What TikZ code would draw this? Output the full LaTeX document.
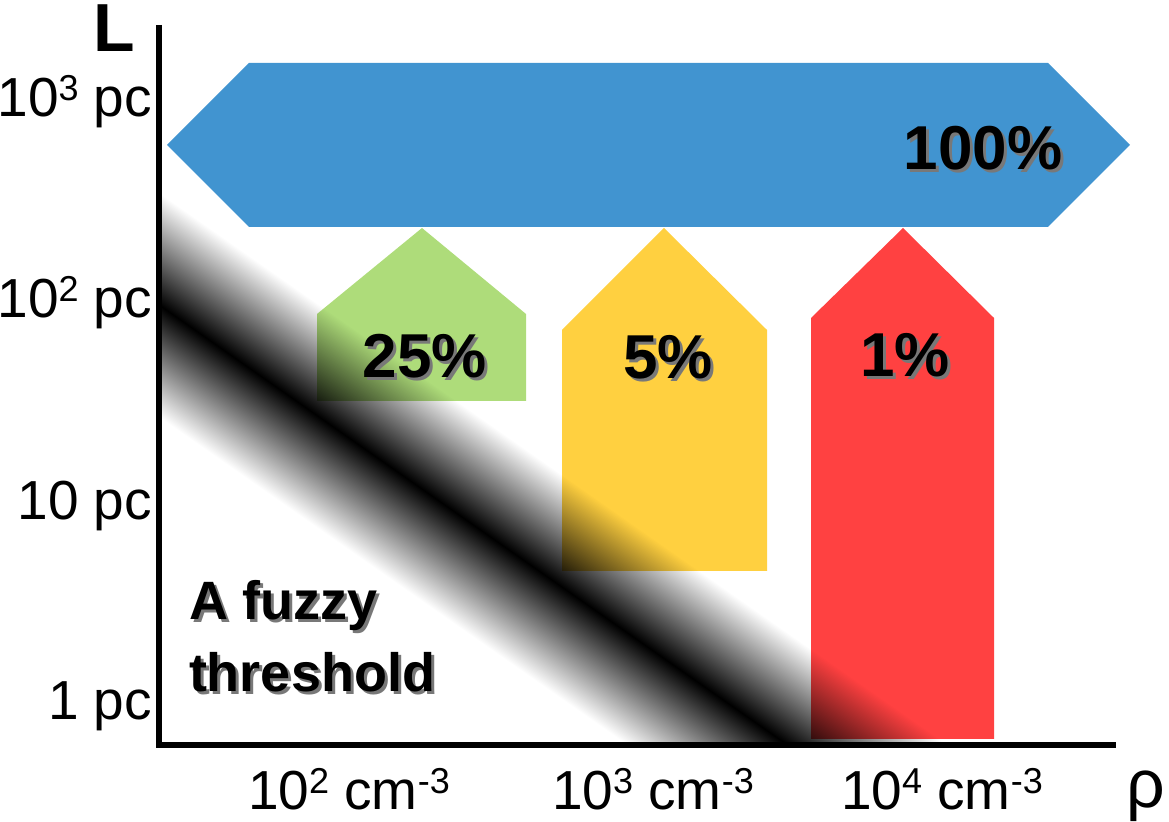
\documentclass[tikz,border=0pt]{standalone}
\usepackage{fontspec}
\setmainfont{Liberation Sans}
\definecolor{blueA}{RGB}{65,148,208}
\definecolor{greenA}{RGB}{174,220,122}
\definecolor{yellowA}{RGB}{255,208,64}
\definecolor{redA}{RGB}{255,65,65}
\definecolor{shadowA}{RGB}{120,120,120}
\pgfdeclareverticalshading{fuzzband}{600pt}{color(0pt)=(white); color(46pt)=(black); color(92pt)=(white)}
\newcommand\sps[1]{\raisebox{0.3em}{\fontsize{18}{18}\selectfont #1}}
\newcommand\shd[1]{\leavevmode\rlap{\kern1.5pt\raisebox{-1.5pt}{\textcolor{shadowA}{#1}}}#1}
\begin{document}
\begin{tikzpicture}[x=0.5pt,y=-0.5pt,
  every node/.style={inner sep=0pt, outer sep=0pt},
  axlab/.style={font=\fontsize{27.5}{27.5}\selectfont},
  pct/.style={font=\fontsize{31}{31}\selectfont\bfseries, anchor=base},
  fuzzy/.style={font=\fontsize{27}{27}\selectfont\bfseries, anchor=base west},
  axis/.style={line width=3pt, line join=miter}]
\useasboundingbox (0,0) rectangle (1169,822);
% arrows
\fill[blueA] (167,145) -- (249,63) -- (1048,63) -- (1130,145) -- (1048,227) -- (249,227) -- cycle;
\fill[greenA] (317,401) -- (317,314) -- (422,228) -- (526,314) -- (526,401) -- cycle;
\fill[yellowA] (562,571) -- (562,330) -- (664,228) -- (767,330) -- (767,571) -- cycle;
\fill[redA] (811,739) -- (811,318) -- (903,228) -- (994,318) -- (994,739) -- cycle;
% fuzzy band
\begin{scope}
  \clip (161,0) rectangle (1169,742);
  \begin{scope}[blend mode=multiply]
    \node[rotate=-35] (band) at (475,526) {\pgfuseshading{fuzzband}};
  \end{scope}
\end{scope}
% axes
\coordinate (ytop) at (158.5,25);
\coordinate (origin) at (158.5,745);
\coordinate (xend) at (1116,745);
\draw[axis] (ytop) -- (origin) -- (xend);
% axis titles
\node[font=\fontsize{34}{34}\selectfont\bfseries, anchor=base west] (L) at (93,52) {L};
\node[font=\fontsize{34}{34}\selectfont, anchor=base] (rho) at (1146,808) {ρ};
% y labels
\node[axlab, anchor=base east] (y3) at (152,117) {10\sps{3} pc};
\node[axlab, anchor=base east] (y2) at (152,318) {10\sps{2} pc};
\node[axlab, anchor=base east] (y1) at (152,520) {10 pc};
\node[axlab, anchor=base east] (y0) at (152,720) {1 pc};
% x labels
\node[axlab, anchor=base west] (x2) at (248,810) {10\sps{2} cm\sps{-3}};
\node[axlab, anchor=base west] (x3) at (552,810) {10\sps{3} cm\sps{-3}};
\node[axlab, anchor=base west] (x4) at (841,810) {10\sps{4} cm\sps{-3}};
% percentages
\node[pct] (p100) at (983,170) {\shd{100\%}};
\node[pct] (p25) at (425,378) {\shd{25\%}};
\node[pct] (p5) at (668,379) {\shd{5\%}};
\node[pct] (p1) at (905,377) {\shd{1\%}};
% fuzzy threshold
\node[fuzzy] (fa) at (189,620) {\shd{A fuzzy}};
\node[fuzzy] (fb) at (189,692) {\shd{threshold}};
\end{tikzpicture}
\end{document}
